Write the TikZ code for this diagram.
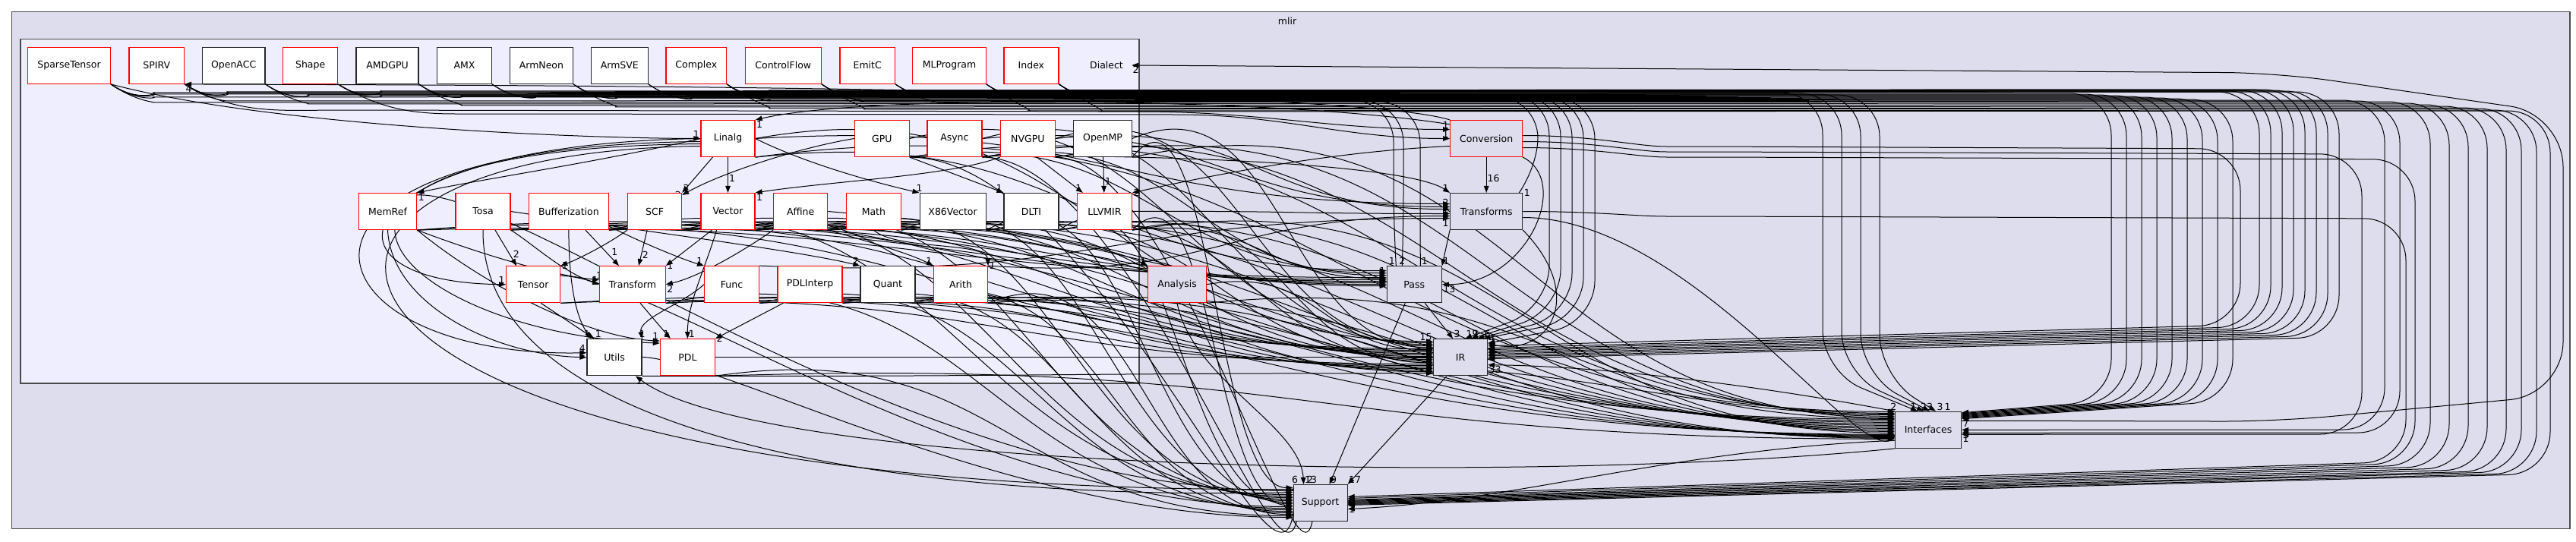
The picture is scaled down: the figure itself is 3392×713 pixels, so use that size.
\documentclass[tikz,border=0pt]{standalone}
\usepackage{fontspec}
\newfontfamily\dvs{DejaVu Sans}
\usetikzlibrary{arrows.meta,calc}
\definecolor{clout}{HTML}{DDDDEE}
\definecolor{clin}{HTML}{EEEEFF}
\definecolor{clbd}{HTML}{4A4A4A}
\pgfdeclarelayer{bg}
\pgfdeclarelayer{edges}
\pgfsetlayers{bg,edges,main}
\tikzset{
 nbase/.style={minimum height=48pt, inner sep=0pt, line width=1.2pt, font=\dvs\fontsize{12.5}{15}\selectfont},
 dirr/.style={nbase, draw=red, fill=white},
 dirb/.style={nbase, draw=black!85, fill=white},
 topr/.style={nbase, draw=red, fill=clout},
 topb/.style={nbase, draw=black!85, fill=clout},
 edge/.style={draw=black, line width=1pt, -{Triangle[length=9pt,width=6.5pt]}},
 lbl/.style={font=\dvs\fontsize{12.5}{15}\selectfont, inner sep=1pt, text=black},
 cltext/.style={font=\dvs\fontsize{12.5}{15}\selectfont, inner sep=0pt},
}
\newcommand\EdH[5]{\draw[edge] let \p1=(#1), \p2=($(#2)+(0,#3)$), \n1={0.5*abs(\x2-\x1)}, \n2={0.3*(\y1-\y2)} in (\p1) .. controls ($(\p1)+(\n1,\n2)$) and ($(\p2)-(\n1,0)$) .. (\p2) node[lbl,#5]{#4};}
\newcommand\EdV[5]{\draw[edge] let \p1=(#1), \p2=($(#2)+(0,#3)$), \n1={0.6*abs(\y2-\y1)}, \n2={0.5*abs(\x2-\x1)} in (\p1) .. controls ($(\p1)+(0,\n1)$) and ($(\p2)-(\n2,0)$) .. (\p2) node[lbl,#5]{#4};}
\newcommand\EdT[5]{\draw[edge] let \p1=(#1), \p2=($(#2)+(#3,0)$), \n1={0.5*abs(\x2-\x1)}, \n2={0.6*abs(\y2-\y1)} in (\p1) .. controls ($(\p1)+(\n1,0)$) and ($(\p2)-(0,\n2)$) .. (\p2) node[lbl,#5]{#4};}
\newcommand\EdR[7]{\draw[edge,rounded corners=55pt] (#1.south east) to[out=-35,in=180] ++(110,{#2-110}) -- (#3,#2) -- (#3,#4) -- (#5) node[lbl,#7]{#6};}
\begin{document}
\begin{tikzpicture}[x=1pt,y=-1pt]
\useasboundingbox (0,0) rectangle (3392,713);
\begin{pgfonlayer}{bg}
\draw[fill=clout,draw=clbd,line width=1.5pt] (15.3,15.7) rectangle (3384,696.7);
\draw[fill=clin,draw=clbd,line width=1.5pt] (26.8,51.7) rectangle (1500,505);
\end{pgfonlayer}
\node[cltext] (mlir) at (1695,28) {mlir};
\node[cltext, minimum width=66pt] (Dialect) at (1457,86) {Dialect};
% row 1
\node[dirr, minimum width=108.7pt] (SparseTensor) at (91.05,86.3) {SparseTensor};
\node[dirr, minimum width=72.7pt] (SPIRV) at (206.25,86.3) {SPIRV};
\node[dirb, minimum width=82.7pt] (OpenACC) at (307.65,86.3) {OpenACC};
\node[dirr, minimum width=72pt] (Shape) at (408.65,86.3) {Shape};
\node[dirb, minimum width=82pt] (AMDGPU) at (510.05,86.3) {AMDGPU};
\node[dirb, minimum width=72pt] (AMX) at (611.45,86.3) {AMX};
\node[dirb, minimum width=83.4pt] (ArmNeon) at (712.9,86.3) {ArmNeon};
\node[dirb, minimum width=75pt] (ArmSVE) at (815.8,86.3) {ArmSVE};
\node[dirr, minimum width=79.6pt] (Complex) at (916.8,86.3) {Complex};
\node[dirr, minimum width=100.3pt] (ControlFlow) at (1031.25,86.3) {ControlFlow};
\node[dirr, minimum width=72.6pt] (EmitC) at (1142.2,86.3) {EmitC};
\node[dirr, minimum width=96.4pt] (MLProgram) at (1250,86.3) {MLProgram};
\node[dirr, minimum width=72pt] (Index) at (1357.9,86.3) {Index};
% row 2
\node[dirr, minimum width=71pt] (Linalg) at (958.5,182.5) {Linalg};
\node[dirr, minimum width=72pt] (GPU) at (1161.3,182.5) {GPU};
\node[dirr, minimum width=72pt] (Async) at (1256.9,182.5) {Async};
\node[dirr, minimum width=72pt] (NVGPU) at (1353.3,182.5) {NVGPU};
\node[dirb, minimum width=76.5pt] (OpenMP) at (1452,182.5) {OpenMP};
\node[topr, minimum width=95pt] (Conversion) at (1957.2,182.5) {Conversion};
% row 3
\node[dirr, minimum width=76.5pt] (MemRef) at (510.5,278.5) {MemRef};
\node[dirr, minimum width=72pt] (Tosa) at (636,278.5) {Tosa};
\node[dirr, minimum width=105pt] (Bufferization) at (748.9,278.5) {Bufferization};
\node[dirr, minimum width=71pt] (SCF) at (862.1,278.5) {SCF};
\node[dirr, minimum width=71pt] (Vector) at (958.5,278.5) {Vector};
\node[dirr, minimum width=71pt] (Affine) at (1054.2,278.5) {Affine};
\node[dirr, minimum width=71.5pt] (Math) at (1150.4,278.5) {Math};
\node[dirb, minimum width=87pt] (X86Vector) at (1254.6,278.5) {X86Vector};
\node[dirb, minimum width=72pt] (DLTI) at (1358,278.5) {DLTI};
\node[dirr, minimum width=72pt] (LLVMIR) at (1454.4,278.5) {LLVMIR};
\node[topb, minimum width=95pt] (Transforms) at (1957.2,278.5) {Transforms};
% row 4
\node[dirr, minimum width=71pt] (Tensor) at (702.2,374.7) {Tensor};
\node[dirr, minimum width=86.5pt] (Transform) at (833,374.7) {Transform};
\node[dirr, minimum width=72pt] (Func) at (963.5,374.7) {Func};
\node[dirr, minimum width=85pt] (PDLInterp) at (1066.5,374.7) {PDLInterp};
\node[dirb, minimum width=72pt] (Quant) at (1168.9,374.7) {Quant};
\node[dirr, minimum width=71pt] (Arith) at (1265,374.7) {Arith};
\node[topr, minimum width=76.6pt] (Analysis) at (1550,374.7) {Analysis};
\node[topb, minimum width=72pt] (Pass) at (1862.3,374.7) {Pass};
% row 5
\node[dirb, minimum width=72pt] (Utils) at (809,470.7) {Utils};
\node[dirr, minimum width=72pt] (PDL) at (905.4,470.7) {PDL};
\node[topb, minimum width=71pt] (IR) at (1923.1,470.7) {IR};
\node[topb, minimum width=87pt] (Interfaces) at (2539,566.3) {Interfaces};
\node[topb, minimum width=71pt] (Support) at (1738.6,662.5) {Support};

\begin{pgfonlayer}{edges}
% ---- top row routes: to IR from the right
\EdR{SparseTensor}{121}{2975}{430}{$(IR.east)+(0,-12)$}{}{}
\EdR{SPIRV}{120}{2990}{432}{$(IR.east)+(0,-10)$}{}{}
\EdR{Shape}{119}{3005}{434}{$(IR.east)+(0,-8)$}{}{}
\EdR{Complex}{118}{3020}{436}{$(IR.east)+(0,-6)$}{}{}
\EdR{ControlFlow}{118}{3035}{438}{$(IR.east)+(0,-4)$}{}{}
\EdR{EmitC}{119}{3050}{440}{$(IR.east)+(0,-2)$}{}{}
\EdR{MLProgram}{120}{3065}{442}{$(IR.east)+(0,0)$}{}{}
\EdR{Index}{121}{3080}{444}{$(IR.east)+(0,2)$}{}{}
% to IR from the top
\EdR{OpenACC}{124}{2040}{405}{$(IR.north east)+(-30,0)$}{17}{above right}
\EdR{AMDGPU}{125}{2055}{410}{$(IR.north east)+(-22,0)$}{9}{above right}
\EdR{AMX}{126}{2070}{415}{$(IR.north east)+(-14,0)$}{}{}
\EdR{ArmNeon}{127}{2085}{420}{$(IR.north east)+(-6,0)$}{6}{above right}
\EdR{ArmSVE}{128}{2100}{425}{$(IR.north east)+(0,6)$}{4}{above right}
% to Interfaces NE
\EdR{SparseTensor}{123}{2780}{528}{$(Interfaces.north east)+(0,2)$}{}{}
\EdR{OpenACC}{124}{2800}{528}{$(Interfaces.north east)+(0,3)$}{}{}
\EdR{Shape}{125}{2820}{528}{$(Interfaces.north east)+(0,4)$}{}{}
\EdR{AMDGPU}{126}{2840}{528}{$(Interfaces.north east)+(0,5)$}{}{}
\EdR{AMX}{127}{2860}{528}{$(Interfaces.north east)+(0,6)$}{}{}
\EdR{ArmNeon}{128}{2880}{528}{$(Interfaces.north east)+(0,7)$}{}{}
\EdR{ArmSVE}{129}{2900}{528}{$(Interfaces.north east)+(0,8)$}{}{}
\EdR{Complex}{130}{2920}{528}{$(Interfaces.north east)+(0,9)$}{}{}
\EdR{ControlFlow}{131}{2940}{528}{$(Interfaces.north east)+(0,10)$}{7}{below right}
% to Interfaces top
\EdR{SPIRV}{122}{2400}{490}{$(Interfaces.north)+(-14,0)$}{1}{above left}
\EdR{EmitC}{123}{2425}{492}{$(Interfaces.north)+(-6,0)$}{2}{above}
\EdR{MLProgram}{124}{2450}{494}{$(Interfaces.north)+(2,0)$}{3}{above}
\EdR{Index}{125}{2475}{496}{$(Interfaces.north)+(10,0)$}{3\,1}{above right}
% to Interfaces east
\EdR{SPIRV}{132}{3140}{566}{$(Interfaces.east)+(0,0)$}{3}{below right}
\EdR{Index}{133}{3160}{570}{$(Interfaces.east)+(0,4)$}{}{}
% to Support from the right
\EdR{SparseTensor}{134}{3200}{612}{$(Support.east)+(0,-4)$}{}{}
\EdR{OpenACC}{136}{3225}{614}{$(Support.east)+(0,-3)$}{}{}
\EdR{AMDGPU}{138}{3250}{616}{$(Support.east)+(0,-2)$}{}{}
\EdR{ArmNeon}{140}{3275}{618}{$(Support.east)+(0,-1)$}{}{}
\EdR{Complex}{142}{3300}{620}{$(Support.east)+(0,0)$}{}{}
\EdR{ControlFlow}{143}{3320}{621}{$(Support.east)+(0,1)$}{}{}
\EdR{MLProgram}{145}{3340}{623}{$(Support.east)+(0,2)$}{1}{below right}
\EdR{Index}{146}{3358}{624}{$(Support.east)+(0,3)$}{}{}
% to Pass from the top
\EdR{Complex}{132}{1835}{300}{$(Pass.north)+(-24,0)$}{1}{above left}
\EdR{ControlFlow}{133}{1848}{305}{$(Pass.north)+(-16,0)$}{2}{above}
\EdR{EmitC}{134}{1870}{310}{$(Pass.north)+(8,0)$}{1}{above right}
% to Transforms NE (loop)
\EdR{SparseTensor}{127}{2025}{236}{Transforms.north east}{1}{right}
% to Conversion
\draw[edge] (SPIRV.south east) to[out=-30,in=180] (450,145) -- (1500,147) to[out=0,in=180] ($(Conversion.west)+(0,-12)$) node[lbl,above left]{1};
\draw[edge] (Shape.south east) to[out=-30,in=180] (600,150) -- (1550,151) to[out=0,in=180] ($(Conversion.west)+(0,0)$) node[lbl,above left]{1};
% SparseTensor -> Linalg
\draw[edge] (SparseTensor.south east) .. controls (350,165) and (750,182) .. (Linalg.west) node[lbl,above left]{1};
% Interfaces -> Dialect
\draw[edge,rounded corners=70pt] ($(Interfaces.east)+(0,-12)$) to[out=0,in=180] (3000,555) -- (3375,520) -- (3375,150) -- (3000,96) -- (Dialect.east) node[lbl,below right]{2};

% ---- Conversion out
\draw[edge] (Conversion.north west) .. controls (1760,112) and (520,112) .. (SPIRV.south east) node[lbl,below right]{4};
\draw[edge] ($(Conversion.north west)+(0,6)$) .. controls (1700,130) and (1150,122) .. (Linalg.north east) node[lbl,below right]{1};
\draw[edge] ($(Conversion.west)+(0,10)$) .. controls (1750,200) and (1600,230) .. (LLVMIR.north east) node[lbl,right]{2};
\draw[edge] (Conversion) -- (Transforms) node[lbl,pos=0.72,above right]{16};
\draw[edge] (Conversion.south east) .. controls (2070,240) and (2010,375) .. (Pass.east) node[lbl,below right]{13};
\draw[edge,rounded corners=55pt] ($(Conversion.east)+(0,-4)$) to[out=0,in=180] (2250,193) -- (2950,196) -- (2950,428) -- ($(IR.east)+(0,-15)$);
\draw[edge,rounded corners=55pt] ($(Conversion.east)+(0,4)$) to[out=0,in=180] (2250,200) -- (3110,203) -- (3110,572) -- ($(Interfaces.east)+(0,6)$) node[lbl,below right]{1};
\draw[edge,rounded corners=55pt] ($(Conversion.east)+(0,12)$) to[out=0,in=180] (2250,207) -- (3180,210) -- (3180,610) -- ($(Support.east)+(0,-6)$) node[lbl,below right]{4};
% ---- Transforms out
\draw[edge] (Transforms.south west) -- (Pass.north east) node[lbl,above right]{1};
\draw[edge,rounded corners=55pt] (Transforms.east) to[out=0,in=180] (2250,285) -- (3168,288) -- (3168,608) -- ($(Support.east)+(0,-8)$);
\EdT{$(Transforms.east)+(0,8)$}{Interfaces.north west}{4}{2}{above left}
\draw[edge] (Transforms.south east) .. controls (2090,390) and (2040,470) .. ($(IR.east)+(0,-18)$);
\draw[edge] (GPU.south east) .. controls (1500,200) and (1850,215) .. (Transforms.north west) node[lbl,above left]{1};
% ---- Pass, IR, Analysis, Interfaces
\draw[edge] ($(Pass.south)+(14,0)$) -- ($(IR.north)+(-10,0)$) node[lbl,above right]{3};
\draw[edge] ($(Pass.south)+(-12,0)$) -- ($(Support.north)+(12,0)$) node[lbl,above right]{9};
\draw[edge] ($(IR.south)+(-18,0)$) -- (Support.north east) node[lbl,above right]{17};
\draw[edge] (Analysis.south) .. controls (1570,500) and (1712,560) .. ($(Support.north)+(-22,0)$) node[lbl,above right]{13};
\draw[edge] (Interfaces.north west) .. controls (2300,505) and (2100,482) .. ($(IR.east)+(0,10)$) node[lbl,below right]{33};
\draw[edge] ($(IR.east)+(0,18)$) .. controls (2150,505) and (2300,548) .. ($(Interfaces.west)+(0,-21)$);
\draw[edge] ($(Interfaces.west)+(0,14)$) .. controls (2200,592) and (2000,660) .. ($(Support.east)+(0,8)$);
\draw[edge] (Interfaces.south west) .. controls (2000,640) and (1000,620) .. ($(Utils.south)+(28,0)$) node[lbl,below right]{2};

% ---- internal Dialect edges
\draw[edge] (Linalg) -- node[lbl,pos=0.6,right]{1} (Vector);
\draw[edge] ($(Linalg.south west)+(16,0)$) -- (SCF.north east) node[lbl,above right]{2};
\draw[edge] (Linalg.west) .. controls (780,215) and (640,235) .. (MemRef.north east) node[lbl,below right]{1};
\draw[edge] (Linalg.east) .. controls (1060,215) and (1150,240) .. (X86Vector.north west) node[lbl,above]{1};
\draw[edge] (GPU.south east) -- (DLTI.north west) node[lbl,above left]{1};
\draw[edge] (GPU.west) .. controls (1050,195) and (950,228) .. ($(SCF.north east)+(0,3)$) node[lbl,left]{2};
\draw[edge] (NVGPU.south west) .. controls (1250,232) and (1100,238) .. (Vector.north east) node[lbl,below right]{1};
\draw[edge] ($(NVGPU.south)+(12,0)$) -- ($(LLVMIR.north west)+(8,0)$) node[lbl,above left]{1};
\draw[edge] (OpenMP) -- (LLVMIR) node[lbl,pos=0.8,above right]{1};
\draw[edge] ($(Tosa.south)+(16,0)$) -- ($(Tensor.north west)+(14,0)$) node[lbl,pos=0.8,above right]{2};
\draw[edge] (Tosa.south east) .. controls (700,320) and (740,358) .. (Transform.west) node[lbl,above left]{1};
\draw[edge] (MemRef.south east) .. controls (620,330) and (720,362) .. ($(Transform.west)+(0,-6)$) node[lbl,above]{1};
\draw[edge] (Tosa.east) .. controls (850,305) and (1050,330) .. (Quant.north west) node[lbl,above left]{2};
\draw[edge] ($(Bufferization.south)+(22,0)$) -- ($(Transform.north)+(-18,0)$) node[lbl,pos=0.75,above right]{1};
\draw[edge] ($(Bufferization.south east)+(0,-5)$) .. controls (850,322) and (900,342) .. (Func.north west) node[lbl,above left]{1};
\draw[edge] (Bufferization.south) .. controls (749,380) and (760,420) .. ($(Utils.north west)+(6,0)$) node[lbl,above left]{1};
\draw[edge] ($(SCF.south)+(-10,0)$) -- ($(Transform.north)+(8,0)$) node[lbl,pos=0.7,right]{2};
\draw[edge] (SCF.south west) .. controls (800,322) and (760,342) .. (Tensor.north east) node[lbl,right]{1};
\draw[edge] ($(Vector.south west)+(15,0)$) -- (Transform.north east) node[lbl,right]{1};
\draw[edge] ($(Vector.south)+(-15,0)$) .. controls (930,350) and (905,400) .. (PDL.north) node[lbl,above right]{1};
\draw[edge] (Affine.south west) .. controls (980,330) and (920,365) .. (Transform.east) node[lbl,below right]{2};
\draw[edge] (Affine.south east) .. controls (1150,320) and (1200,335) .. (Arith.north west) node[lbl,above left]{1};
\draw[edge] (Math.south) .. controls (1180,330) and (1300,318) .. (Arith.north east) node[lbl,right]{1};
\draw[edge] (Affine.east) .. controls (1250,292) and (1450,318) .. (Analysis.north west) node[lbl,above left]{1};
\draw[edge] ($(Tensor.south)+(10,0)$) -- ($(Utils.north west)+(10,0)$) node[lbl,above right]{1};
\draw[edge] ($(Transform.south)+(10,0)$) -- ($(PDL.north west)+(14,0)$) node[lbl,above left]{1};
\draw[edge] (Func.west) .. controls (900,400) and (840,420) .. (Utils.north east) node[lbl,above]{1};
\draw[edge] ($(PDLInterp.south west)+(8,0)$) -- (PDL.north east) node[lbl,right]{2};
\draw[edge] (MemRef.south east) .. controls (650,385) and (780,445) .. ($(PDL.north west)+(0,3)$) node[lbl,above left]{1};
\draw[edge] (MemRef.south) .. controls (515,400) and (650,468) .. (Utils.west) node[lbl,above left]{1};
\draw[edge] (Linalg.west) .. controls (450,190) and (400,372) .. (Tensor.west) node[lbl,above left]{1};
\draw[edge] ($(Linalg.west)+(0,4)$) .. controls (300,192) and (400,472) .. ($(Utils.west)+(0,-6)$) node[lbl,above left]{4};
\draw[edge] ($(Linalg.west)+(0,7)$) .. controls (280,196) and (520,440) .. ($(PDL.north west)+(0,6)$);
\draw[edge] ($(Linalg.west)+(0,10)$) .. controls (250,200) and (320,650) .. ($(Support.west)+(0,-18)$);
\draw[edge] (Tosa.south) .. controls (634,580) and (1200,660) .. ($(Support.west)+(0,-14)$);

% ---- generic: to IR west
\EdH{Linalg.east}{IR.west}{-21}{15}{above left}
\EdH{GPU.east}{IR.west}{-19}{}{}
\EdH{Async.east}{IR.west}{-17}{}{}
\EdH{NVGPU.east}{IR.west}{-15}{}{}
\EdH{OpenMP.east}{IR.west}{-13}{}{}
\EdH{MemRef.south east}{IR.west}{-11}{}{}
\EdH{Tosa.south east}{IR.west}{-9}{}{}
\EdH{Bufferization.south east}{IR.west}{-7}{}{}
\EdH{SCF.south east}{IR.west}{-5}{}{}
\EdH{Vector.south east}{IR.west}{-3}{}{}
\EdH{Affine.south east}{IR.west}{-1}{}{}
\EdH{Math.south east}{IR.west}{1}{}{}
\EdH{X86Vector.south east}{IR.west}{3}{}{}
\EdH{DLTI.south east}{IR.west}{5}{}{}
\EdH{LLVMIR.south east}{IR.west}{7}{}{}
\EdH{Tensor.south east}{IR.west}{9}{}{}
\EdH{Transform.south east}{IR.west}{11}{}{}
\EdH{Func.south east}{IR.west}{13}{}{}
\EdH{PDLInterp.south east}{IR.west}{15}{}{}
\EdH{Quant.south east}{IR.west}{17}{}{}
\EdH{Arith.south east}{IR.west}{19}{}{}
\EdH{Utils.south east}{IR.west}{21}{}{}
\draw[edge] (PDL.east) -- (IR.west);
\EdH{Analysis.east}{IR.west}{-10}{}{}
% to Pass west
\EdH{Linalg.south east}{Pass.west}{-18}{}{}
\EdH{GPU.south east}{Pass.west}{-15}{}{}
\EdH{Async.south east}{Pass.west}{-12}{1}{above left}
\EdH{MemRef.south east}{Pass.west}{-9}{}{}
\EdH{Tosa.south east}{Pass.west}{-6}{}{}
\EdH{Bufferization.south east}{Pass.west}{-4}{}{}
\EdH{SCF.south east}{Pass.west}{-2}{}{}
\EdH{Vector.south east}{Pass.west}{0}{1}{above left}
\EdH{Affine.south east}{Pass.west}{2}{}{}
\EdH{LLVMIR.south east}{Pass.west}{-8}{}{}
% to Transforms west
\EdH{Linalg.east}{Transforms.west}{-10}{}{}
\EdH{Async.east}{Transforms.west}{-6}{2}{above left}
\EdH{NVGPU.east}{Transforms.west}{-3}{}{}
\EdH{LLVMIR.east}{Transforms.west}{3}{1}{above left}
\EdH{Arith.north east}{Transforms.west}{6}{}{}
\EdH{Func.north east}{Transforms.west}{9}{1}{below left}
% to Interfaces west
\EdH{Linalg.south east}{Interfaces.west}{-24}{}{}
\EdH{GPU.south east}{Interfaces.west}{-22}{}{}
\EdH{Async.south east}{Interfaces.west}{-20}{}{}
\EdH{NVGPU.south east}{Interfaces.west}{-18}{}{}
\EdH{OpenMP.south east}{Interfaces.west}{-16}{2}{above left}
\EdH{MemRef.south east}{Interfaces.west}{-14}{}{}
\EdH{Tosa.south east}{Interfaces.west}{-12}{}{}
\EdH{Bufferization.south east}{Interfaces.west}{-10}{}{}
\EdH{SCF.south east}{Interfaces.west}{-8}{}{}
\EdH{Vector.south east}{Interfaces.west}{-6}{}{}
\EdH{Affine.south east}{Interfaces.west}{-4}{}{}
\EdH{Math.south east}{Interfaces.west}{-2}{}{}
\EdH{X86Vector.south east}{Interfaces.west}{0}{}{}
\EdH{DLTI.south east}{Interfaces.west}{2}{}{}
\EdH{LLVMIR.south east}{Interfaces.west}{4}{}{}
\EdH{Tensor.south east}{Interfaces.west}{6}{}{}
\EdH{Transform.south east}{Interfaces.west}{7}{}{}
\EdH{Func.south east}{Interfaces.west}{8}{}{}
\EdH{PDLInterp.south east}{Interfaces.west}{9}{}{}
\EdH{Quant.south east}{Interfaces.west}{10}{}{}
\EdH{Arith.south east}{Interfaces.west}{11}{}{}
\EdH{PDL.south east}{Interfaces.west}{12}{}{}
\EdH{Analysis.south east}{Interfaces.west}{-15}{}{}
% to Support
\EdV{MemRef.south}{Support.west}{-16}{}{}
\EdH{Bufferization.south east}{Support.west}{-11}{}{}
\EdH{SCF.south east}{Support.west}{-9}{}{}
\EdH{Vector.south east}{Support.west}{-7}{}{}
\EdH{Affine.south east}{Support.west}{-5}{}{}
\EdH{Math.south east}{Support.west}{-3}{}{}
\EdH{X86Vector.south east}{Support.west}{-1}{}{}
\EdH{DLTI.south east}{Support.west}{1}{}{}
\EdH{LLVMIR.south east}{Support.west}{3}{}{}
\EdV{Tensor.south}{Support.west}{5}{}{}
\EdH{Transform.south east}{Support.west}{7}{}{}
\EdH{Func.south east}{Support.west}{9}{}{}
\EdH{PDLInterp.south east}{Support.west}{11}{}{}
\EdH{Quant.south east}{Support.west}{13}{}{}
\EdH{Arith.south east}{Support.west}{15}{}{}
\EdH{PDL.south east}{Support.west}{17}{}{}
\EdV{Utils.south}{Support.west}{19}{}{}
\EdT{GPU.south east}{Support.north west}{2}{}{}
\EdT{Async.south east}{Support.north west}{8}{6}{above left}
\EdT{NVGPU.south east}{Support.north}{-8}{2}{above left}
\EdH{OpenMP.south east}{Support.west}{-20}{}{}
\end{pgfonlayer}
\end{tikzpicture}
\end{document}
